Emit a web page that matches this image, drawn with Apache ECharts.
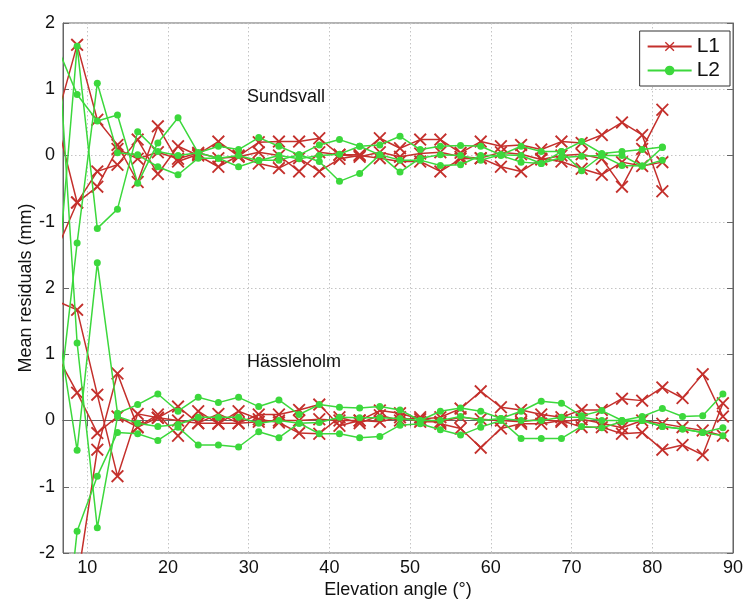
<!DOCTYPE html>
<html>
<head>
<meta charset="utf-8">
<script src="https://cdn.jsdelivr.net/npm/echarts@6/dist/echarts.min.js"></script>
<style>
html,body{margin:0;padding:0;background:#fff;}
#chart{width:746px;height:606px;}
</style>
</head>
<body>
<div id="chart"></div>
<script>
// Elevation bin centres (deg)
const elevation = [6.25, 8.75, 11.25, 13.75, 16.25, 18.75, 21.25, 23.75, 26.25, 28.75,
  31.25, 33.75, 36.25, 38.75, 41.25, 43.75, 46.25, 48.75, 51.25, 53.75,
  56.25, 58.75, 61.25, 63.75, 66.25, 68.75, 71.25, 73.75, 76.25, 78.75,
  81.25, 83.75, 86.25, 88.75];

// Sundsvall mean residuals (mm), 6.25..81.25
const sundsvallL1a = [0.57, 1.67, 0.54, 0.16, -0.4, 0.44, -0.09, 0.02, 0.21, -0.01,
  0.2, 0.21, 0.21, 0.26, 0.01, 0.01, 0.26, 0.11, 0.24, 0.24,
  0.04, 0.21, 0.14, 0.16, 0.09, 0.21, 0.19, 0.31, 0.5, 0.31, -0.54];
const sundsvallL1b = [0.5, -0.71, -0.24, -0.14, 0.24, -0.28, 0.14, 0.0, -0.17, 0.0,
  -0.12, -0.19, -0.04, -0.24, -0.05, 0.0, -0.04, -0.09, -0.09, -0.24,
  -0.05, -0.04, -0.17, -0.24, -0.05, -0.09, -0.2, -0.29, -0.1, -0.16, -0.1];
const sundsvallL1c = [-1.41, -0.71, -0.47, 0.1, -0.05, 0.05, -0.05, 0.04, -0.04, -0.02,
  0.05, 0.0, -0.24, 0.05, 0.01, -0.02, 0.05, -0.02, 0.03, 0.05,
  -0.02, -0.04, 0.05, 0.02, -0.06, 0.0, 0.02, -0.05, -0.47, 0.1, 0.69];
const sundsvallL2a = [1.65, 0.92, 0.52, 0.61, -0.42, 0.19, 0.57, 0.04, 0.14, 0.09,
  0.27, 0.14, 0.01, 0.16, 0.24, 0.14, 0.16, 0.29, 0.09, 0.14,
  0.15, 0.14, 0.01, 0.14, 0.06, 0.06, 0.21, 0.03, 0.06, 0.09, 0.13];
const sundsvallL2b = [-4.0, -1.32, 1.09, 0.04, 0.01, -0.17, -0.29, -0.04, -0.04, -0.17,
  -0.07, -0.07, 0.01, -0.09, -0.39, -0.27, 0.01, -0.25, -0.04, 0.01,
  0.0, -0.07, 0.01, 0.0, -0.12, -0.03, -0.01, 0.0, -0.15, -0.16, -0.07];
const sundsvallL2c = [-2.0, 1.65, -1.1, -0.81, 0.36, 0.06, 0.0, 0.04, -0.04, 0.0,
  -0.08, 0.0, -0.05, 0.0, 0.02, 0.14, 0.01, -0.07, -0.07, -0.15,
  -0.14, 0.0, 0.0, -0.1, -0.12, 0.06, -0.23, 0.0, 0.0, -0.16, 0.12];

// Hässleholm mean residuals (mm), 6.25..88.75
const hassleholmL1a = [1.8, 1.67, 0.39, -0.84, 0.1, 0.04, 0.21, -0.04, 0.1, -0.04,
  0.09, 0.09, 0.16, 0.24, -0.08, 0.0, 0.15, 0.11, 0.02, 0.05,
  0.18, 0.44, 0.2, 0.16, 0.09, 0.05, 0.16, 0.16, 0.33, 0.3,
  0.5, 0.34, 0.7, 0.06];
const hassleholmL1b = [0.98, 0.42, -0.19, 0.06, -0.1, 0.09, -0.23, 0.14, -0.05, 0.14,
  0.02, -0.03, -0.19, -0.2, 0.05, -0.04, 0.08, 0.0, 0.05, -0.05,
  -0.12, -0.41, -0.12, -0.05, -0.05, 0.0, -0.1, -0.1, -0.2, -0.18,
  -0.44, -0.37, -0.52, 0.26];
const hassleholmL1c = [-4.5, -2.45, -0.44, 0.71, -0.1, 0.04, 0.0, -0.04, -0.04, -0.04,
  -0.02, 0.0, 0.0, 0.02, 0.0, 0.0, -0.02, 0.05, -0.02, -0.02,
  0.05, 0.02, 0.0, -0.02, 0.02, -0.02, 0.02, -0.04, -0.11, 0.0,
  -0.05, -0.1, -0.15, -0.23];
const hassleholmL2a = [1.5, -0.45, 2.38, 0.11, 0.24, 0.4, 0.14, 0.35, 0.27, 0.35,
  0.21, 0.31, 0.09, 0.24, 0.2, 0.19, 0.21, 0.16, 0.0, 0.14,
  0.19, 0.14, 0.03, 0.14, 0.29, 0.26, 0.07, 0.15, 0.0, 0.06,
  0.18, 0.06, 0.07, 0.4];
const hassleholmL2b = [6.0, 1.17, -1.62, 0.06, -0.04, -0.09, -0.06, 0.05, 0.05, 0.05,
  -0.04, 0.0, -0.04, -0.03, 0.05, 0.04, 0.04, 0.03, 0.0, 0.0,
  0.06, 0.0, 0.03, 0.0, 0.0, 0.05, 0.05, 0.0, 0.0, 0.0,
  -0.09, -0.13, -0.18, -0.11];
const hassleholmL2c = [-4.5, -1.67, -0.84, -0.18, -0.2, -0.3, -0.1, -0.37, -0.37, -0.4,
  -0.17, -0.26, -0.04, -0.2, -0.2, -0.26, -0.24, -0.07, -0.05, -0.14,
  -0.22, -0.1, 0.0, -0.27, -0.27, -0.27, -0.09, -0.11, -0.02, 0.0,
  -0.09, -0.13, -0.18, -0.23];

// Vertical offset of the Sundsvall panel on the shared axis
const sundsvallOffset = 4;
const xTicks = [10, 20, 30, 40, 50, 60, 70, 80, 90];

const RED = '#c4302c';
const GREEN = '#3cd83c';
const FONT = '"Liberation Sans", Arial, Helvetica, sans-serif';
const XSYM = 'path://M0,1 L1,0 L5,4 L9,0 L10,1 L6,5 L10,9 L9,10 L5,6 L1,10 L0,9 L4,5 Z';

function mk(name, vals, offset) {
  const isL1 = name === 'L1';
  return {
    name: name,
    type: 'line',
    clip: true,
    data: vals.map((v, i) => [elevation[i], v + offset]),
    symbol: isL1 ? XSYM : 'circle',
    symbolSize: isL1 ? 13 : 7,
    showAllSymbol: true,
    lineStyle: { color: isL1 ? RED : GREEN, width: 1.5 },
    itemStyle: { color: isL1 ? RED : GREEN, borderWidth: 0 },
    emphasis: { disabled: true },
    animation: false,
    z: isL1 ? 2 : 3
  };
}

const series = [
  mk('L1', sundsvallL1a, sundsvallOffset),
  mk('L1', sundsvallL1b, sundsvallOffset),
  mk('L1', sundsvallL1c, sundsvallOffset),
  mk('L1', hassleholmL1a, 0),
  mk('L1', hassleholmL1b, 0),
  mk('L1', hassleholmL1c, 0),
  mk('L2', sundsvallL2a, sundsvallOffset),
  mk('L2', sundsvallL2b, sundsvallOffset),
  mk('L2', sundsvallL2c, sundsvallOffset),
  mk('L2', hassleholmL2a, 0),
  mk('L2', hassleholmL2b, 0),
  mk('L2', hassleholmL2c, 0)
];

const chart = echarts.init(document.getElementById('chart'), null, { renderer: 'canvas' });
const gridLine = { show: true, lineStyle: { color: '#c4c4c4', type: [1.5, 2.5], width: 1 } };
const axisText = { color: '#111', fontSize: 18, fontFamily: FONT };

chart.setOption({
  animation: false,
  backgroundColor: '#fff',
  grid: { left: 63, right: 9, top: 23, bottom: 53, show: true, borderColor: '#666', borderWidth: 1, backgroundColor: 'transparent' },
  legend: {
    orient: 'vertical',
    right: 16, top: 31,
    data: ['L1', 'L2'],
    backgroundColor: '#fff',
    borderColor: '#333', borderWidth: 1, borderRadius: 0,
    padding: [5, 10, 5, 7],
    itemWidth: 44, itemHeight: 12, itemGap: 3,
    textStyle: { fontSize: 21, color: '#111', fontFamily: FONT },
    selectedMode: false
  },
  xAxis: [{
    type: 'value', min: 7, max: 90, splitNumber: 9, minInterval: 10, maxInterval: 10,
    name: 'Elevation angle (°)', nameLocation: 'middle', nameGap: 28, nameMoveOverlap: false,
    nameTextStyle: { fontSize: 18, color: '#111', fontFamily: FONT, verticalAlign: 'top' },
    axisLine: { lineStyle: { color: '#666' } },
    axisTick: { inside: true, length: 6, lineStyle: { color: '#666' } },
    axisLabel: Object.assign({ margin: 6, formatter: v => (xTicks.indexOf(v) >= 0 ? String(v) : '') }, axisText),
    splitLine: gridLine
  }, {
    type: 'value', position: 'top', min: 7, max: 90, splitNumber: 9, minInterval: 10, maxInterval: 10,
    axisLine: { show: true, lineStyle: { color: '#666' } },
    axisTick: { inside: true, length: 6, lineStyle: { color: '#666' } },
    axisLabel: { show: false }, splitLine: { show: false }
  }],
  yAxis: [{
    type: 'value', min: -2, max: 6, interval: 1,
    name: 'Mean residuals (mm)', nameLocation: 'middle', nameGap: 28, nameMoveOverlap: false,
    nameTextStyle: { fontSize: 18, color: '#111', fontFamily: FONT },
    axisLine: { show: true, lineStyle: { color: '#666' } },
    axisTick: { show: true, inside: true, length: 6, lineStyle: { color: '#666' } },
    axisLabel: Object.assign({ margin: 8, formatter: v => String(v > 2 ? v - sundsvallOffset : v) }, axisText),
    splitLine: gridLine
  }, {
    type: 'value', position: 'right', min: -2, max: 6, interval: 1,
    axisLine: { show: true, lineStyle: { color: '#666' } },
    axisTick: { show: true, inside: true, length: 6, lineStyle: { color: '#666' } },
    axisLabel: { show: false }, splitLine: { show: false }
  }],
  series: series
});

// Station labels placed in data coordinates
const pS = chart.convertToPixel({ gridIndex: 0 }, [29.8, 0.88 + sundsvallOffset]);
const pH = chart.convertToPixel({ gridIndex: 0 }, [29.8, 0.88]);
chart.setOption({
  graphic: [
    { type: 'text', x: pS[0], y: pS[1], style: { text: 'Sundsvall', fill: '#111', font: '18px ' + FONT, verticalAlign: 'middle', align: 'left' }, z: 10 },
    { type: 'text', x: pH[0], y: pH[1], style: { text: 'Hässleholm', fill: '#111', font: '18px ' + FONT, verticalAlign: 'middle', align: 'left' }, z: 10 }
  ]
});
</script>
</body>
</html>
